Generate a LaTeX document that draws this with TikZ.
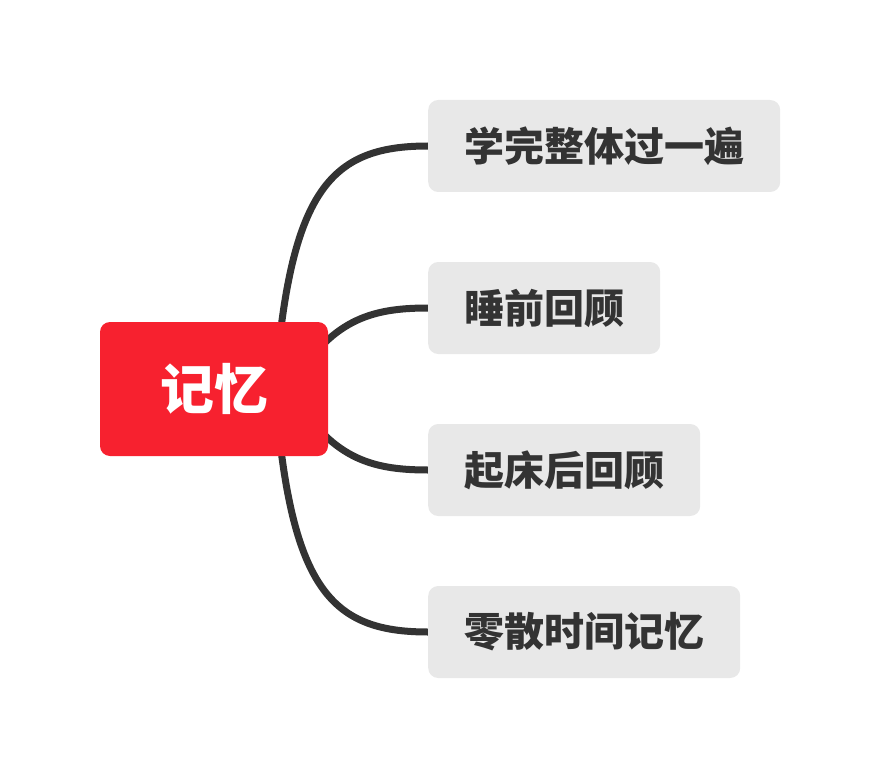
\documentclass[tikz,border=0pt]{standalone}
\usepackage{fontspec}
\newfontfamily\cjk{Noto Sans CJK SC}
\usetikzlibrary{backgrounds}
\usetikzlibrary{calc}
\definecolor{topicred}{HTML}{F7212F}
\definecolor{branchgray}{HTML}{E8E8E8}
\definecolor{linkgray}{HTML}{333333}

\begin{document}
\begin{tikzpicture}
	[x=1pt,y=-1pt,
	topic/.style={fill=topicred, rounded corners=10pt, minimum width=228pt, minimum height=134pt, text=white, font=\cjk\bfseries\fontsize{54}{60}\selectfont},
	branch/.style={fill=branchgray, rounded corners=10pt, anchor=west, inner xsep=36pt, minimum height=92pt, text=linkgray, font=\cjk\bfseries\fontsize{40}{46}\selectfont},
	link/.style={draw=linkgray, line width=7pt, line cap=round}];

	%Frame
	\useasboundingbox (0,0) rectangle (880,778);

	%Topics
	\node[topic] (memo) at (214,389) {记忆};
	\node[branch] (whole) at (428,146) {学完整体过一遍};
	\node[branch] (sleep) at (428,308) {睡前回顾};
	\node[branch] (wake) at (428,470) {起床后回顾};
	\node[branch] (spare) at (428,632) {零散时间记忆};

	%Links
	\begin{scope}[on background layer]
	\draw[link] ($(memo.center)+(61,0)$) .. controls (290,190) and (330,146) .. (whole.west);
	\draw[link] ($(memo.center)+(76,0)$) .. controls (330,320) and (370,308) .. (sleep.west);
	\draw[link] ($(memo.center)+(76,0)$) .. controls (330,458) and (370,470) .. (wake.west);
	\draw[link] ($(memo.center)+(61,0)$) .. controls (290,588) and (330,632) .. (spare.west);
	\end{scope}
\end{tikzpicture}
\end{document}
